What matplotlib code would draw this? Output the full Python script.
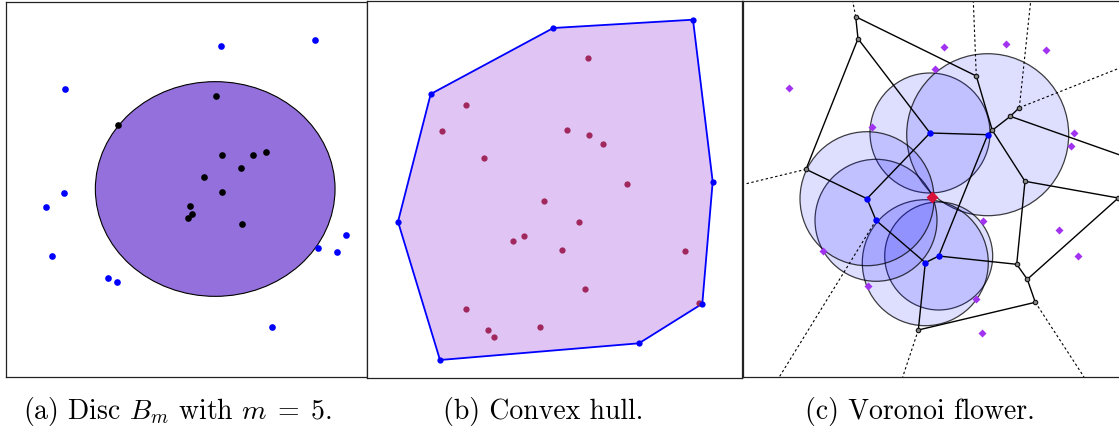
import matplotlib
matplotlib.use('Agg')
import matplotlib.pyplot as plt
from matplotlib.patches import Ellipse, Polygon, Circle

plt.rcParams['font.family'] = 'serif'
plt.rcParams['font.serif'] = ['cmr10']
plt.rcParams['mathtext.fontset'] = 'cm'
plt.rcParams['axes.formatter.use_mathtext'] = True

W, H = 1119, 432

# ---------------- panel (a): disc B_m ----------------
a_out_x = [221, 315, 65, 64.3, 45.7, 51.7, 108.3, 117.3, 272.3, 318.3, 337.3, 346]
a_out_y = [46.3, 40.3, 89.3, 193.3, 207.3, 256.3, 278.3, 282.3, 327.3, 248.3, 252.3, 235.3]
a_in_x = [216, 118, 221.7, 252.7, 265.7, 241, 203.7, 222.3, 190, 191.7, 188.3, 242]
a_in_y = [96.3, 125.3, 155.3, 155.3, 152.3, 168.3, 177.3, 192.3, 206.3, 214.3, 217.7, 224.3]
disc_center = (215.2, 189.0)
disc_w, disc_h = 239.7, 214.7

# ---------------- panel (b): convex hull ----------------
hull_x = [553.3, 693, 712.7, 702.3, 639, 440, 398, 430.7]
hull_y = [28, 19.7, 181.7, 303.7, 343.3, 360, 221.7, 94]
b_in_x = [588.3, 466, 442.3, 567.3, 589.3, 603.3, 484, 626.7, 544, 578.7,
          523.7, 512.7, 562.3, 685, 585, 699.3, 465.7, 487.7, 494.3, 539.7]
b_in_y = [58, 105, 131, 130, 134.7, 144, 157.7, 183.7, 200.7, 222,
          236, 241, 250.3, 250.7, 288.7, 302.7, 309, 330.3, 337.3, 326.7]

# ---------------- panel (c): Voronoi flower ----------------
query = (931.7, 197.0)
cell_names = ['B1', 'B2', 'B6', 'B5', 'B4', 'B3']
cell_x = [930, 987.7, 938.7, 925.3, 876, 867]
cell_y = [133, 134.7, 256, 262.7, 220.3, 198.7]
petal_r = [60, 81, 54, 63, 61, 67]

vor_names = ['V1', 'V2', 'V3', 'V4', 'V5', 'V6', 'V7', 'V8', 'V9', 'V10', 'V11', 'V12', 'V13']
vor_x = [855.7, 858, 976.3, 1019.3, 1010.3, 992.3, 1025, 1118.3, 806, 1016.7, 1027.3, 1035.3, 918.3]
vor_y = [16.7, 38.7, 76, 107.7, 116.3, 130.3, 181.3, 198, 169.3, 264.3, 279.3, 302.3, 330]

far_names = ['E1', 'E2', 'E3', 'E4', 'E5', 'E6', 'E7', 'E8', 'E9']
far_x = [852.7, 973.3, 1030.7, 1119, 745, 1084, 902.7, 779.3, 1125]
far_y = [1, 1, 1, 68.3, 184, 377, 377, 377, 156.8]

solid_edges = [('V1', 'V2'), ('V1', 'V3'), ('V2', 'V9'), ('V2', 'B1'), ('V3', 'V6'),
               ('B2', 'V6'), ('V6', 'V5'), ('V5', 'V4'), ('V6', 'V7'), ('V7', 'V8'),
               ('V7', 'V10'), ('V8', 'V11'), ('V10', 'V11'), ('V11', 'V12'),
               ('V10', 'B6'), ('V12', 'V13'), ('V13', 'B5'), ('V9', 'B3'),
               ('V5', 'E9'),
               ('B1', 'B2'), ('B2', 'B6'), ('B6', 'B5'), ('B5', 'B4'), ('B4', 'B3'), ('B3', 'B1')]
dashed_edges = [('V1', 'E1'), ('V3', 'E2'), ('V4', 'E3'), ('V4', 'E4'), ('V9', 'E5'),
                ('V12', 'E6'), ('V13', 'E7'), ('B4', 'E8')]

site_x = [789, 944.3, 1005.7, 1046.3, 935.3, 872, 1074.3, 1070.7, 983, 1058.7,
          1077.7, 822.7, 868.3, 976, 982.3]
site_y = [87.7, 47, 44.3, 49.7, 69, 127.3, 133, 145.7, 221.3, 230.3,
          256.3, 251.3, 285.7, 299, 332.7]

captions = [r"(a) Disc $B_m$ with $m\;=\;5$.", "(b) Convex hull.", "(c) Voronoi flower."]
caption_x = [23.3, 443.3, 805]
caption_base = 419

fig = plt.figure(figsize=(W / 100, H / 100), dpi=100)


def panel(x0, y0, x1, y1):
    ax = fig.add_axes([x0 / W, 1 - y1 / H, (x1 - x0) / W, (y1 - y0) / H])
    ax.set_xlim(x0, x1)
    ax.set_ylim(y1, y0)
    ax.set_xticks([])
    ax.set_yticks([])
    for s in ax.spines.values():
        s.set_linewidth(0.9)
        s.set_color('#222222')
    return ax


# (a)
axa = panel(5.7, 1.7, 366.7, 377)
axa.add_patch(Ellipse(disc_center, disc_w, disc_h, facecolor='#9370DB',
                      edgecolor='black', linewidth=0.8, zorder=1))
axa.plot(a_out_x, a_out_y, 'o', color='#0000FF', ms=4.8, mec='none', zorder=3)
axa.plot(a_in_x, a_in_y, 'o', color='black', ms=4.8, mec='none', zorder=3)

# (b)
axb = panel(367, 1, 742, 378)
axb.add_patch(Polygon(list(zip(hull_x, hull_y)), closed=True, facecolor='#E0C4F4',
                      edgecolor='#0000FF', linewidth=1.3, zorder=1))
axb.plot(b_in_x, b_in_y, 'o', color='#A0285C', ms=4.5, mec='none', zorder=3)
axb.plot(hull_x, hull_y, 'o', color='#0000FF', ms=4.5, mec='none', zorder=4)

# (c)
axc = panel(743, 1, 1125, 377)
axc.spines['right'].set_visible(False)
pts = {}
for n, x, y in zip(cell_names, cell_x, cell_y):
    pts[n] = (x, y)
for n, x, y in zip(vor_names, vor_x, vor_y):
    pts[n] = (x, y)
for n, x, y in zip(far_names, far_x, far_y):
    pts[n] = (x, y)

for x, y, r in zip(cell_x, cell_y, petal_r):
    axc.add_patch(Circle((x, y), r, facecolor=(0, 0, 1, 0.13),
                         edgecolor=(0, 0, 0, 0.75), linewidth=0.9, zorder=1))
for a, b in dashed_edges:
    axc.plot([pts[a][0], pts[b][0]], [pts[a][1], pts[b][1]], color='black',
             linewidth=0.8, linestyle=(0, (2.2, 2.2)), zorder=2)
for a, b in solid_edges:
    axc.plot([pts[a][0], pts[b][0]], [pts[a][1], pts[b][1]], color='black',
             linewidth=1.0, zorder=3)
axc.plot(vor_x, vor_y, 'o', ms=3.2, mfc='#888888', mec='#111111', mew=0.8, zorder=4)
axc.plot(site_x, site_y, 'D', color='#A032F0', ms=4.2, mec='none', zorder=4)
axc.plot(cell_x, cell_y, 'o', color='#0000FF', ms=4.6, mec='none', zorder=5)
axc.plot([query[0]], [query[1]], 'D', color='#D8103A', ms=6.5, mec='none', zorder=6)

for t, x in zip(captions, caption_x):
    fig.text(x / W, 1 - caption_base / H, t, fontsize=20, ha='left', va='baseline')

fig.savefig('out.png', dpi=100)
